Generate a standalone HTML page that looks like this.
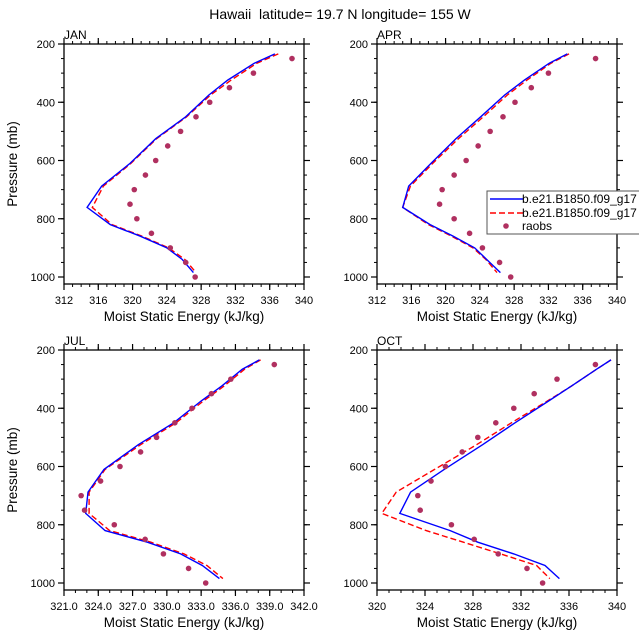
<!DOCTYPE html>
<html><head><meta charset="utf-8"><style>
body{margin:0;background:#fff;}
svg{display:block;font-family:"Liberation Sans",sans-serif;}
</style></head><body>
<svg id="c" width="639" height="639" viewBox="0 0 639 639">
<text x="340" y="19" text-anchor="middle" font-size="14">Hawaii&#160; latitude= 19.7 N longitude= 155 W</text>
</svg>
<script>
const levels=[234,266,324,375,450,525,610,688,761,820,860,900,940,985];
const obsLevels=[250,300,350,400,450,500,550,600,650,700,750,800,850,900,950,1000];
const yTicks=[200,400,600,800,1000];
const janBlue=[336.6,334.2,331.1,328.9,326.2,322.7,319.7,316.4,314.7,317.4,320.9,324.0,325.8,327.1];
const janRed=[337.0,334.5,331.5,329.1,326.3,322.8,319.8,316.6,315.3,317.6,321.1,324.2,326.1,327.4];
const janObs=[338.6,334.1,331.3,329.0,327.4,325.6,324.1,322.7,321.5,320.2,319.7,320.5,322.2,324.4,326.2,327.3];
const aprBlue=[334.2,332.1,329.2,326.9,324.1,321.2,318.3,315.7,315.0,318.2,320.9,323.4,324.8,326.4];
const aprRed=[334.4,332.3,329.5,327.2,324.4,321.5,318.5,315.9,315.0,318.0,320.7,323.2,324.7,326.0];
const aprObs=[337.5,332.0,330.0,328.1,326.7,325.2,323.8,322.4,321.0,319.6,319.3,321.0,322.8,324.3,326.3,327.6];
const julBlue=[338.1,336.6,334.8,333.0,330.6,327.5,324.5,323.1,322.9,324.6,328.3,331.2,333.1,334.6];
const julRed=[338.2,336.8,335.0,333.2,330.8,327.7,324.6,323.2,323.2,325.0,328.6,331.5,333.5,334.9];
const julObs=[339.4,335.6,333.9,332.2,330.7,329.1,327.7,325.9,324.2,322.5,322.8,325.4,328.1,329.7,331.9,333.4];
const octBlue=[339.5,338.3,336.2,334.3,331.5,328.8,325.6,322.8,321.9,326.1,328.4,331.4,334.0,335.2];
const octRed=[339.5,338.3,336.2,334.2,331.2,328.3,324.8,321.6,320.4,324.1,327.2,330.3,333.3,334.4];
const octObs=[338.2,335.0,333.1,331.4,329.9,328.4,327.1,325.7,324.5,323.4,323.6,326.2,328.1,330.1,332.5,333.8];
const janX=[312,316,320,324,328,332,336,340];
const aprX=[312,316,320,324,328,332,336,340];
const julX=["321.0","324.0","327.0","330.0","333.0","336.0","339.0","342.0"];
const octX=[320,324,328,332,336,340];

const NS="http://www.w3.org/2000/svg";
const svg=document.getElementById('c');
function mk(tag,attrs,parent){const e=document.createElementNS(NS,tag);for(const k in attrs)e.setAttribute(k,attrs[k]);(parent||svg).appendChild(e);return e;}

function panel(name,L,T,xmin,xmax,xlabels,minorStep,blue,red,obs,showY){
  const R=L+240,B=T+240;
  const g=mk('g',{});
  
  
  const xs=v=>L+(v-xmin)/(xmax-xmin)*240;
  const ys=p=>T+(p-200)*0.29125;
  const lb=mk('text',{x:L,y:T-5,'font-size':12},g);lb.textContent=name.toUpperCase();
  
  
  for(let v=xmin;v<=xmax+1e-6;v+=minorStep){const x=xs(v);
    mk('line',{x1:x,x2:x,y1:B,y2:B+3,stroke:'#000','stroke-width':1},g);
    mk('line',{x1:x,x2:x,y1:T,y2:T-3,stroke:'#000','stroke-width':1},g);}
  for(let p=200;p<=1000;p+=50){const y=ys(p);
    mk('line',{x1:L,x2:L-3,y1:y,y2:y,stroke:'#000','stroke-width':1},g);
    mk('line',{x1:R,x2:R+3,y1:y,y2:y,stroke:'#000','stroke-width':1},g);}
  xlabels.forEach(lv=>{const x=xs(parseFloat(lv));
    mk('line',{x1:x,x2:x,y1:B,y2:B+6,stroke:'#000','stroke-width':1.2},g);
    mk('line',{x1:x,x2:x,y1:T,y2:T-6,stroke:'#000','stroke-width':1.2},g);
    const t=mk('text',{x:x,y:B+20,'font-size':11,'text-anchor':'middle'},g);t.textContent=lv;
    
    });
  yTicks.forEach(p=>{const y=ys(p);
    mk('line',{x1:L,x2:L-6,y1:y,y2:y,stroke:'#000','stroke-width':1.2},g);
    mk('line',{x1:R,x2:R+6,y1:y,y2:y,stroke:'#000','stroke-width':1.2},g);
    const t=mk('text',{x:L-9,y:y+4,'font-size':11,'text-anchor':'end'},g);t.textContent=p;
    
    });
  const fr=mk('rect',{x:L,y:T,width:240,height:240,fill:'none',stroke:'#000','stroke-width':1.3},g);
  
  
  const xt=mk('text',{x:L+120,y:B+37,'font-size':13.5,'text-anchor':'middle'},g);xt.textContent='Moist Static Energy (kJ/kg)';
  
  
  if(showY){const yt=mk('text',{x:0,y:0,'font-size':13.5,'text-anchor':'middle',transform:`translate(17,${T+120}) rotate(-90)`},g);yt.textContent='Pressure (mb)';
    
    }
  const pts=a=>a.map((v,i)=>xs(v).toFixed(1)+','+ys(levels[i]).toFixed(1)).join(' ');
  const lr=mk('polyline',{points:pts(red),fill:'none',stroke:'#ff0000','stroke-width':1.4,'stroke-dasharray':'6,3'},g);
  
  
  const lbl=mk('polyline',{points:pts(blue),fill:'none',stroke:'#0000ff','stroke-width':1.4},g);
  
  
  obs.forEach((v,i)=>{const c=mk('circle',{cx:xs(v),cy:ys(obsLevels[i]),r:2.8,fill:'#b03060'},g);
    
    });
}
panel('jan',64,44,312,340,janX.map(String),1,janBlue,janRed,janObs,true);
panel('apr',377,44,312,340,aprX.map(String),1,aprBlue,aprRed,aprObs,false);
panel('jul',64,350,321,342,julX,1,julBlue,julRed,julObs,true);
panel('oct',377,350,320,340,octX.map(String),1,octBlue,octRed,octObs,false);

const lg=mk('g',{});


mk('rect',{x:487,y:191,width:160,height:43,fill:'#fff',stroke:'#555','stroke-width':1},lg);
mk('line',{x1:490,x2:523,y1:199,y2:199,stroke:'#0000ff','stroke-width':1.4},lg);
mk('line',{x1:490,x2:523,y1:213,y2:213,stroke:'#ff0000','stroke-width':1.4,'stroke-dasharray':'6,3'},lg);
mk('circle',{cx:506,cy:226,r:2.8,fill:'#b03060'},lg);
[['b.e21.B1850.f09_g17',203],['b.e21.B1850.f09_g17',217],['raobs',230]].forEach(([t,y])=>{
  const e=mk('text',{x:522,y:y,'font-size':12},lg);e.textContent=t;
  
  });
</script>
</body></html>
